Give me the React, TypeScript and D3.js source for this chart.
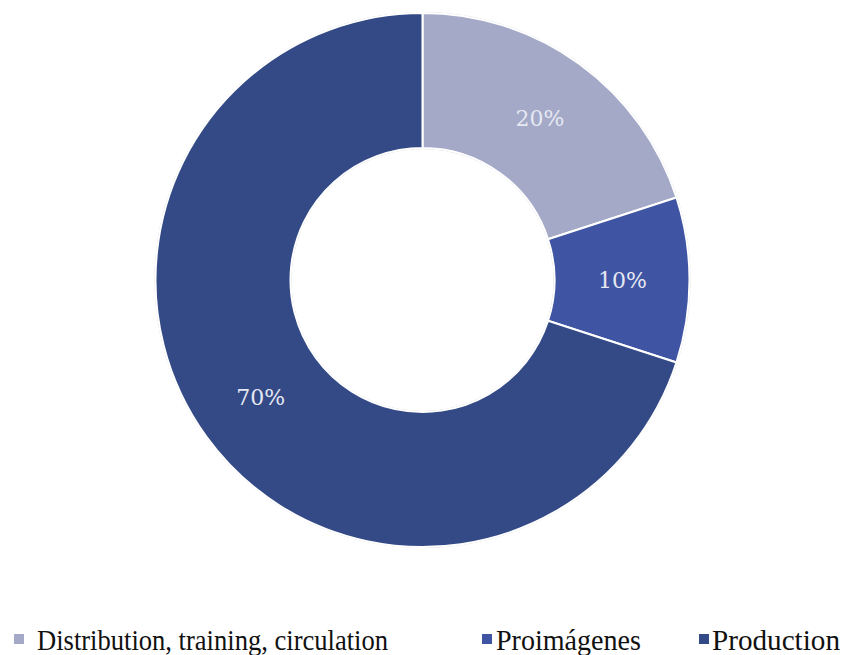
import React from "react";
import * as d3 from "d3";

const categories = ["Distribution, training, circulation", "Proimágenes", "Production"];
const values = [20, 10, 70];
const labels = ["20%", "10%", "70%"];
const colors = ["#a4a9c8", "#3f55a4", "#334a86"];

const W = 843, H = 655;
const cx = 422.5, cy = 280, outerR = 267, innerR = 132;

const legendX = [14, 482, 699];
const legendTextX = [37, 496, 712];
const legendTextLen = [351, 145, 128];

export default function App() {
  const pie = d3.pie<number>().sort(null).value((d) => d)(values);
  const arc = d3.arc<d3.PieArcDatum<number>>().innerRadius(innerR).outerRadius(outerR);
  const labelArc = d3.arc<d3.PieArcDatum<number>>().innerRadius(200).outerRadius(200);
  return (
    <svg width={W} height={H} style={{ position: "absolute", left: 0, top: 0 }}>
      <rect width={W} height={H} fill="#fff" />
      <g transform={`translate(${cx},${cy})`}>
        <circle r={outerR + 0.5} fill="none" stroke="#d0d2dc" strokeWidth={1} />
        <circle r={innerR - 0.5} fill="none" stroke="#d0d2dc" strokeWidth={1} />
        {pie.map((p, i) => (
          <path key={i} d={arc(p) || ""} fill={colors[i]} stroke="#fff" strokeWidth={2} />
        ))}
        {pie.map((p, i) => {
          const [x, y] = labelArc.centroid(p);
          return (
            <text key={i} x={x} y={y} dy="0.35em" textAnchor="middle" fill="#e6e8f2"
              fontFamily="'DejaVu Serif', Georgia, serif" fontSize={22}>
              {labels[i]}
            </text>
          );
        })}
      </g>
      {categories.map((c, i) => (
        <g key={i}>
          <rect x={legendX[i]} y={634} width={10} height={10} fill={colors[i]} />
          <text x={legendTextX[i]} y={650} fontFamily="'Liberation Serif', 'Times New Roman', serif" fontSize={29} fill="#111"
            textLength={legendTextLen[i]} lengthAdjust="spacingAndGlyphs">
            {c}
          </text>
        </g>
      ))}
    </svg>
  );
}
